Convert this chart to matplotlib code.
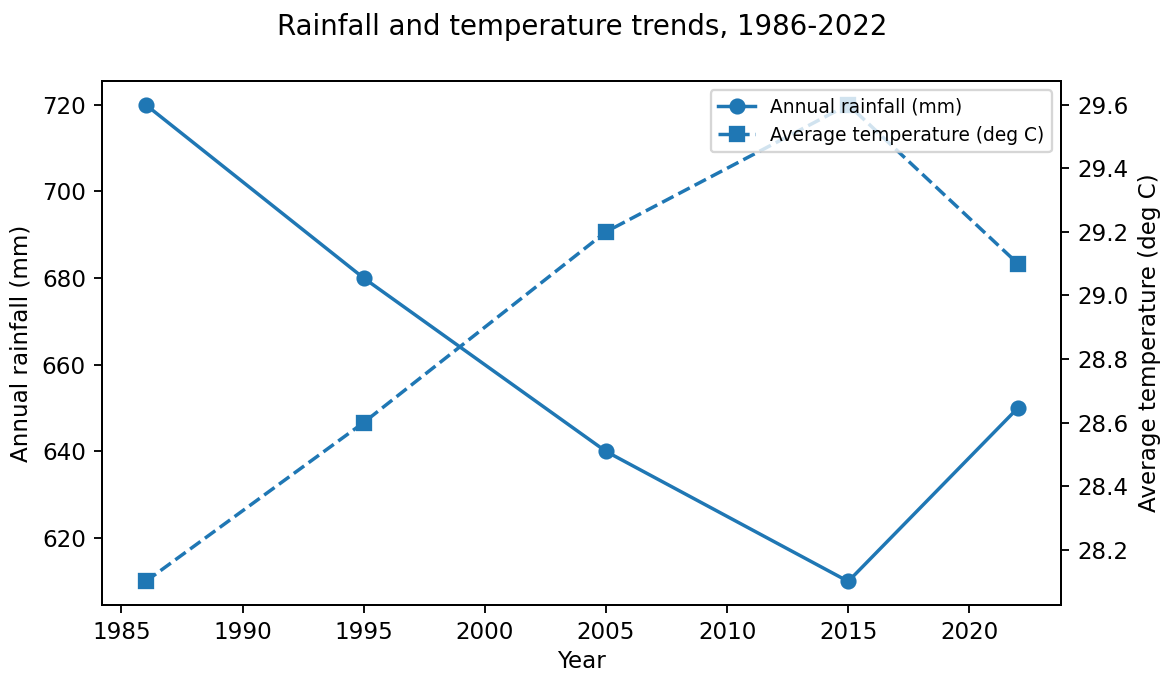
import matplotlib.pyplot as plt

# data
years = [1986, 1995, 2005, 2015, 2022]
rainfall = [720, 680, 640, 610, 650]
temperature = [28.1, 28.6, 29.2, 29.6, 29.1]

fig, ax1 = plt.subplots(figsize=(1160 / 166, 674 / 166), dpi=166)

l1, = ax1.plot(years, rainfall, marker='o', linestyle='-', color='tab:blue',
               label='Annual rainfall (mm)')
ax1.set_xlabel('Year', labelpad=2.5)
ax1.set_ylabel('Annual rainfall (mm)')

ax2 = ax1.twinx()
l2, = ax2.plot(years, temperature, marker='s', linestyle='--', color='tab:blue',
               label='Average temperature (deg C)')
ax2.set_ylabel('Average temperature (deg C)')

ax1.legend(handles=[l1, l2], loc='upper right', fontsize=8.1)
ax1.set_zorder(ax2.get_zorder() + 1)
ax1.patch.set_visible(False)

plt.title('Rainfall and temperature trends, 1986-2022', pad=20)
fig.subplots_adjust(left=0.088, right=0.915, top=0.880, bottom=0.102)
fig.savefig('out.png')
